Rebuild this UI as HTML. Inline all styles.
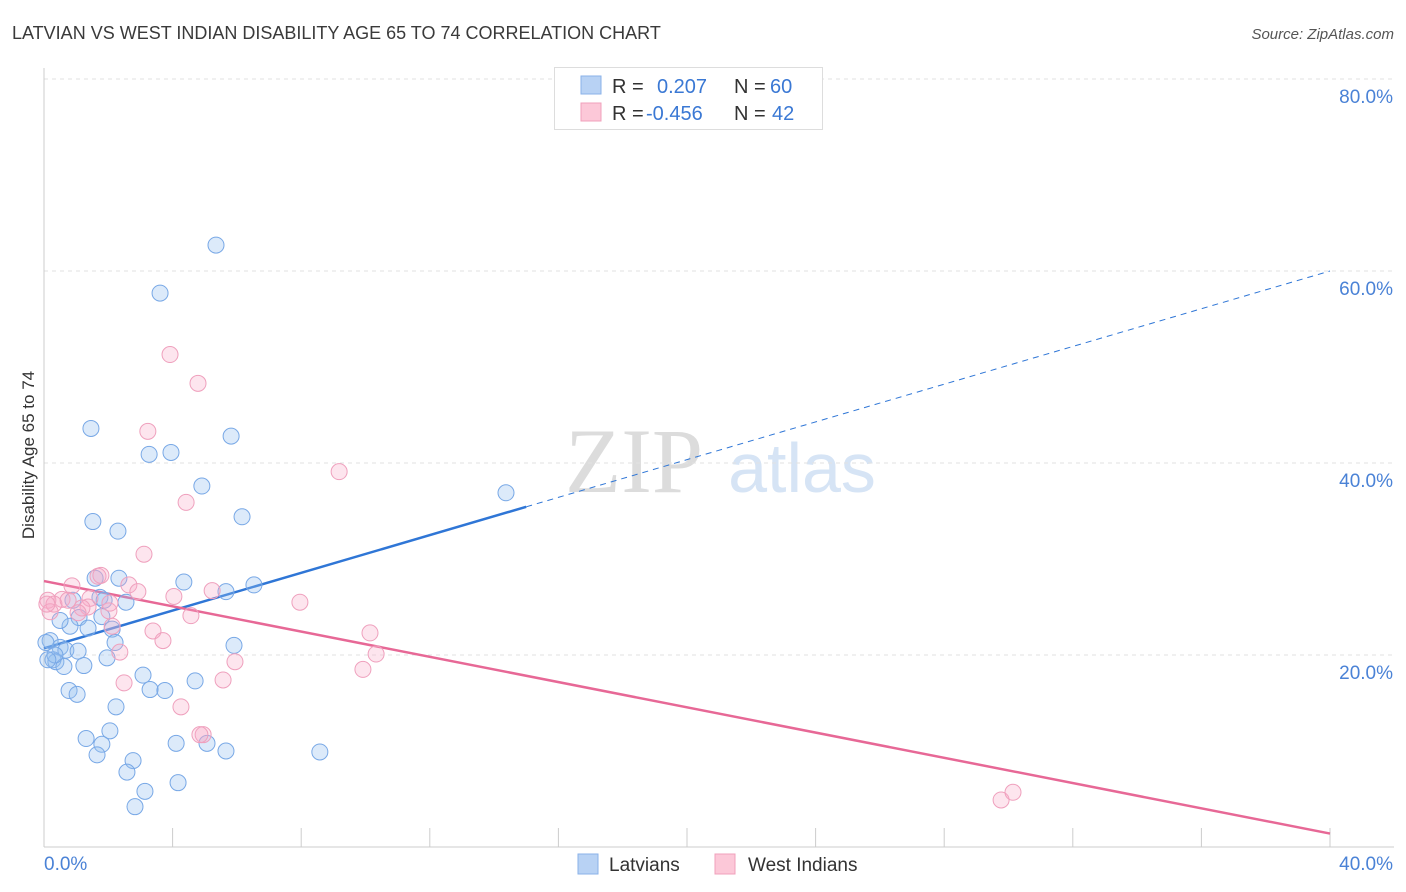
<!DOCTYPE html>
<html><head><meta charset="utf-8"><style>
body{margin:0;background:#fff;font-family:"Liberation Sans",sans-serif;}
#wrap{position:relative;width:1406px;height:892px;overflow:hidden;}
</style></head><body>
<div id="wrap">
<svg id="svg" width="1406" height="892" xmlns="http://www.w3.org/2000/svg" style="position:absolute;left:0;top:0">
<text x="12" y="39" font-size="18" fill="#3a3a3a">LATVIAN VS WEST INDIAN DISABILITY AGE 65 TO 74 CORRELATION CHART</text>
<text x="1394" y="39" font-size="15" fill="#555" font-style="italic" text-anchor="end">Source: ZipAtlas.com</text>
<text x="34" y="455" font-size="17" fill="#333" text-anchor="middle" transform="rotate(-90 34 455)">Disability Age 65 to 74</text>
<g>
<text x="634" y="492" font-size="92" fill="#dcdcdc" font-family="Liberation Serif,serif" text-anchor="middle">ZIP</text>
<text x="802" y="492" font-size="70" fill="#d6e4f5" text-anchor="middle">atlas</text>
</g>
<g id="grid"></g><g id="axes"></g><g id="lines"></g><g id="pts"></g>
<g>
<rect x="554.5" y="67.5" width="268" height="62" fill="#fff" stroke="#ddd"/>
<rect x="581" y="76" width="20" height="18" fill="#b8d2f4" stroke="#8ab2e8"/>
<rect x="581" y="103" width="20" height="18" fill="#fcc8d8" stroke="#f0a0bb"/>
<text x="612" y="93" font-size="20" fill="#333">R =</text>
<text x="657" y="93" font-size="20" fill="#3a78d4">0.207</text>
<text x="734" y="93" font-size="20" fill="#333">N =</text>
<text x="770" y="93" font-size="20" fill="#3a78d4">60</text>
<text x="612" y="120" font-size="20" fill="#333">R =</text>
<text x="646" y="120" font-size="20" fill="#3a78d4">-0.456</text>
<text x="734" y="120" font-size="20" fill="#333">N =</text>
<text x="772" y="120" font-size="20" fill="#3a78d4">42</text>
</g>
<g>
<rect x="578" y="854" width="20" height="20" fill="#b8d2f4" stroke="#8ab2e8"/>
<text x="609" y="871" font-size="19" fill="#333">Latvians</text>
<rect x="715" y="854" width="20" height="20" fill="#fcc8d8" stroke="#f0a0bb"/>
<text x="748" y="871" font-size="19" fill="#333">West Indians</text>
</g>
</svg>
</div>
<script>
const yTicks=[20,40,60,80];
const yTickLabels=["20.0%","40.0%","60.0%","80.0%"];
const xTicks=[0,4,8,12,16,20,24,28,32,36,40];
const xLabels=["0.0%","40.0%"];
const latviansX=[5.35,3.61,1.46,5.82,3.27,3.95,4.91,14.37,1.52,6.16,2.30,1.59,2.33,4.35,6.53,5.66,1.74,1.87,2.55,0.90,1.09,1.80,1.37,0.81,2.12,0.19,0.50,0.68,1.06,2.21,5.91,0.28,0.37,1.96,0.62,1.24,3.08,4.70,0.78,1.03,3.30,3.76,2.24,2.05,1.31,1.80,1.65,4.11,5.07,5.66,8.58,2.77,2.58,3.14,4.17,2.83,0.06,0.34,0.12,0.50];
const latviansY=[62.7,57.7,43.6,42.8,40.9,41.1,37.6,36.9,33.9,34.4,32.9,28.0,28.0,27.6,27.3,26.6,26.0,25.7,25.5,25.7,23.9,24.0,22.8,23.0,22.7,21.5,20.8,20.5,20.4,21.3,21.0,19.5,19.3,19.7,18.8,18.9,17.9,17.3,16.3,15.9,16.4,16.3,14.6,12.1,11.3,10.7,9.6,10.8,10.8,10.0,9.9,9.0,7.8,5.8,6.7,4.2,21.3,20.0,19.5,23.6];
const westIndiansX=[3.92,4.79,3.23,9.18,4.42,3.11,1.68,1.77,0.87,2.64,2.92,0.56,0.12,0.31,0.75,1.43,1.37,2.02,1.18,4.04,5.23,7.96,4.57,2.12,3.39,3.70,10.14,10.33,2.36,5.94,9.92,2.49,5.57,4.26,4.95,4.85,29.77,30.14,0.19,1.06,2.05,0.09];
const westIndiansY=[51.3,48.3,43.3,39.1,35.9,30.5,28.2,28.3,27.2,27.3,26.6,25.8,25.7,25.3,25.7,25.9,25.0,24.6,24.9,26.1,26.7,25.5,24.1,23.0,22.5,21.5,22.3,20.1,20.3,19.3,18.5,17.1,17.4,14.6,11.7,11.7,4.9,5.7,24.5,24.4,25.4,25.3];
const blueFit=[20.7,60.0];
const blueSolidEnd=15;
const pinkFit=[27.7,1.4];

const NS="http://www.w3.org/2000/svg";
const X=v=>44+v*(1286/40);
const Y=v=>847-v*9.6;
function mk(tag,attrs,parent){const e=document.createElementNS(NS,tag);for(const k in attrs)e.setAttribute(k,attrs[k]);document.getElementById(parent).appendChild(e);return e;}
yTicks.forEach((t,i)=>{
 const g=mk('line',{x1:44,x2:1394,y1:Y(t),y2:Y(t),stroke:'#e2e2e2','stroke-dasharray':'4 4'},'grid');
 
 
 const l=mk('text',{x:1393,y:Y(t)+24,'font-size':19,fill:'#4a82d6','text-anchor':'end'},'axes');
 l.textContent=yTickLabels[i];
 
 
});
let a=mk('line',{x1:44,x2:44,y1:68,y2:847,stroke:'#ccc'},'axes');


a=mk('line',{x1:44,x2:1394,y1:847,y2:847,stroke:'#ccc'},'axes');


xTicks.forEach(t=>{
 const e=mk('line',{x1:X(t),x2:X(t),y1:828,y2:847,stroke:'#ccc'},'axes');
 
 
});
let t0=mk('text',{x:44,y:870,'font-size':19,fill:'#4a82d6'},'axes');t0.textContent=xLabels[0];


let t1=mk('text',{x:1393,y:870,'font-size':19,fill:'#4a82d6','text-anchor':'end'},'axes');t1.textContent=xLabels[1];


function drawPts(xs,ys,fill,stroke,name){
 xs.forEach((x,i)=>{
  const c=mk('circle',{cx:X(x),cy:Y(ys[i]),r:8,fill:fill,stroke:stroke,'stroke-width':1},'pts');
  
  
 });
}
drawPts(latviansX,latviansY,'rgba(150,190,240,0.33)','#78a8e6','latvian-point');
drawPts(westIndiansX,westIndiansY,'rgba(248,170,198,0.3)','#efa0bd','west-indian-point');
const bAt=x=>blueFit[0]+(blueFit[1]-blueFit[0])*x/40;
let ln=mk('line',{x1:X(0),y1:Y(bAt(0)),x2:X(blueSolidEnd),y2:Y(bAt(blueSolidEnd)),stroke:'#2f76d6','stroke-width':2.5},'lines');


ln=mk('line',{x1:X(blueSolidEnd),y1:Y(bAt(blueSolidEnd)),x2:X(40),y2:Y(bAt(40)),stroke:'#2f76d6','stroke-width':1,'stroke-dasharray':'6 5'},'lines');


ln=mk('line',{x1:X(0),y1:Y(pinkFit[0]),x2:X(40),y2:Y(pinkFit[1]),stroke:'#e76896','stroke-width':2.5},'lines');


</script>
</body></html>
